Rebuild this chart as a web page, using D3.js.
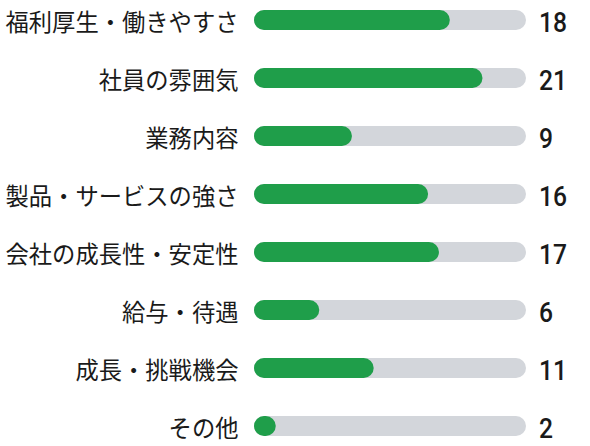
<!DOCTYPE html>
<html><head><meta charset="utf-8">
<script src="https://cdn.jsdelivr.net/npm/d3@7"></script>
<style>html,body{margin:0;padding:0;background:#fff;}svg{display:block;}</style>
</head><body>
<div id="chart"></div>
<script>
const categories = ["福利厚生・働きやすさ","社員の雰囲気","業務内容","製品・サービスの強さ","会社の成長性・安定性","給与・待遇","成長・挑戦機会","その他"];
const values = [18, 21, 9, 16, 17, 6, 11, 2];
const maxValue = 25;

const W = 590, H = 446;
const svg = d3.select("#chart").append("svg").attr("width", W).attr("height", H);

const y = d3.scalePoint().domain(categories).range([20, 426]);
const x = d3.scaleLinear().domain([0, maxValue]).range([254, 526]);
const barH = 20;

const data = categories.map((c, i) => ({c, v: values[i]}));

const g = svg.selectAll("g.row").data(data).join("g").attr("class", "row");

g.append("rect")
  .attr("x", x(0)).attr("y", d => y(d.c) - barH/2)
  .attr("width", x(maxValue) - x(0)).attr("height", barH)
  .attr("rx", barH/2).attr("fill", "#d3d6db");

g.append("rect")
  .attr("x", x(0)).attr("y", d => y(d.c) - barH/2)
  .attr("width", d => Math.max(barH, x(d.v) - x(0))).attr("height", barH)
  .attr("rx", barH/2).attr("fill", "#1f9e4a");

g.append("text")
  .attr("x", 238.5).attr("y", d => y(d.c) + 1)
  .attr("text-anchor", "end").attr("dominant-baseline", "central")
  .attr("font-family", "'Noto Sans CJK JP', 'Noto Sans', sans-serif")
  .attr("font-size", 23.3).attr("font-weight", 400).attr("fill", "#1a1a1a")
  .text(d => d.c);

g.append("text")
  .attr("transform", d => `translate(539,${y(d.c) + 2}) scale(0.88,1)`)
  .attr("text-anchor", "start").attr("dominant-baseline", "central")
  .attr("font-family", "Roboto, 'Noto Sans', sans-serif")
  .attr("font-size", 28).attr("font-weight", 500).attr("fill", "#1a1a1a")
  .text(d => d.v);
</script>
</body></html>
